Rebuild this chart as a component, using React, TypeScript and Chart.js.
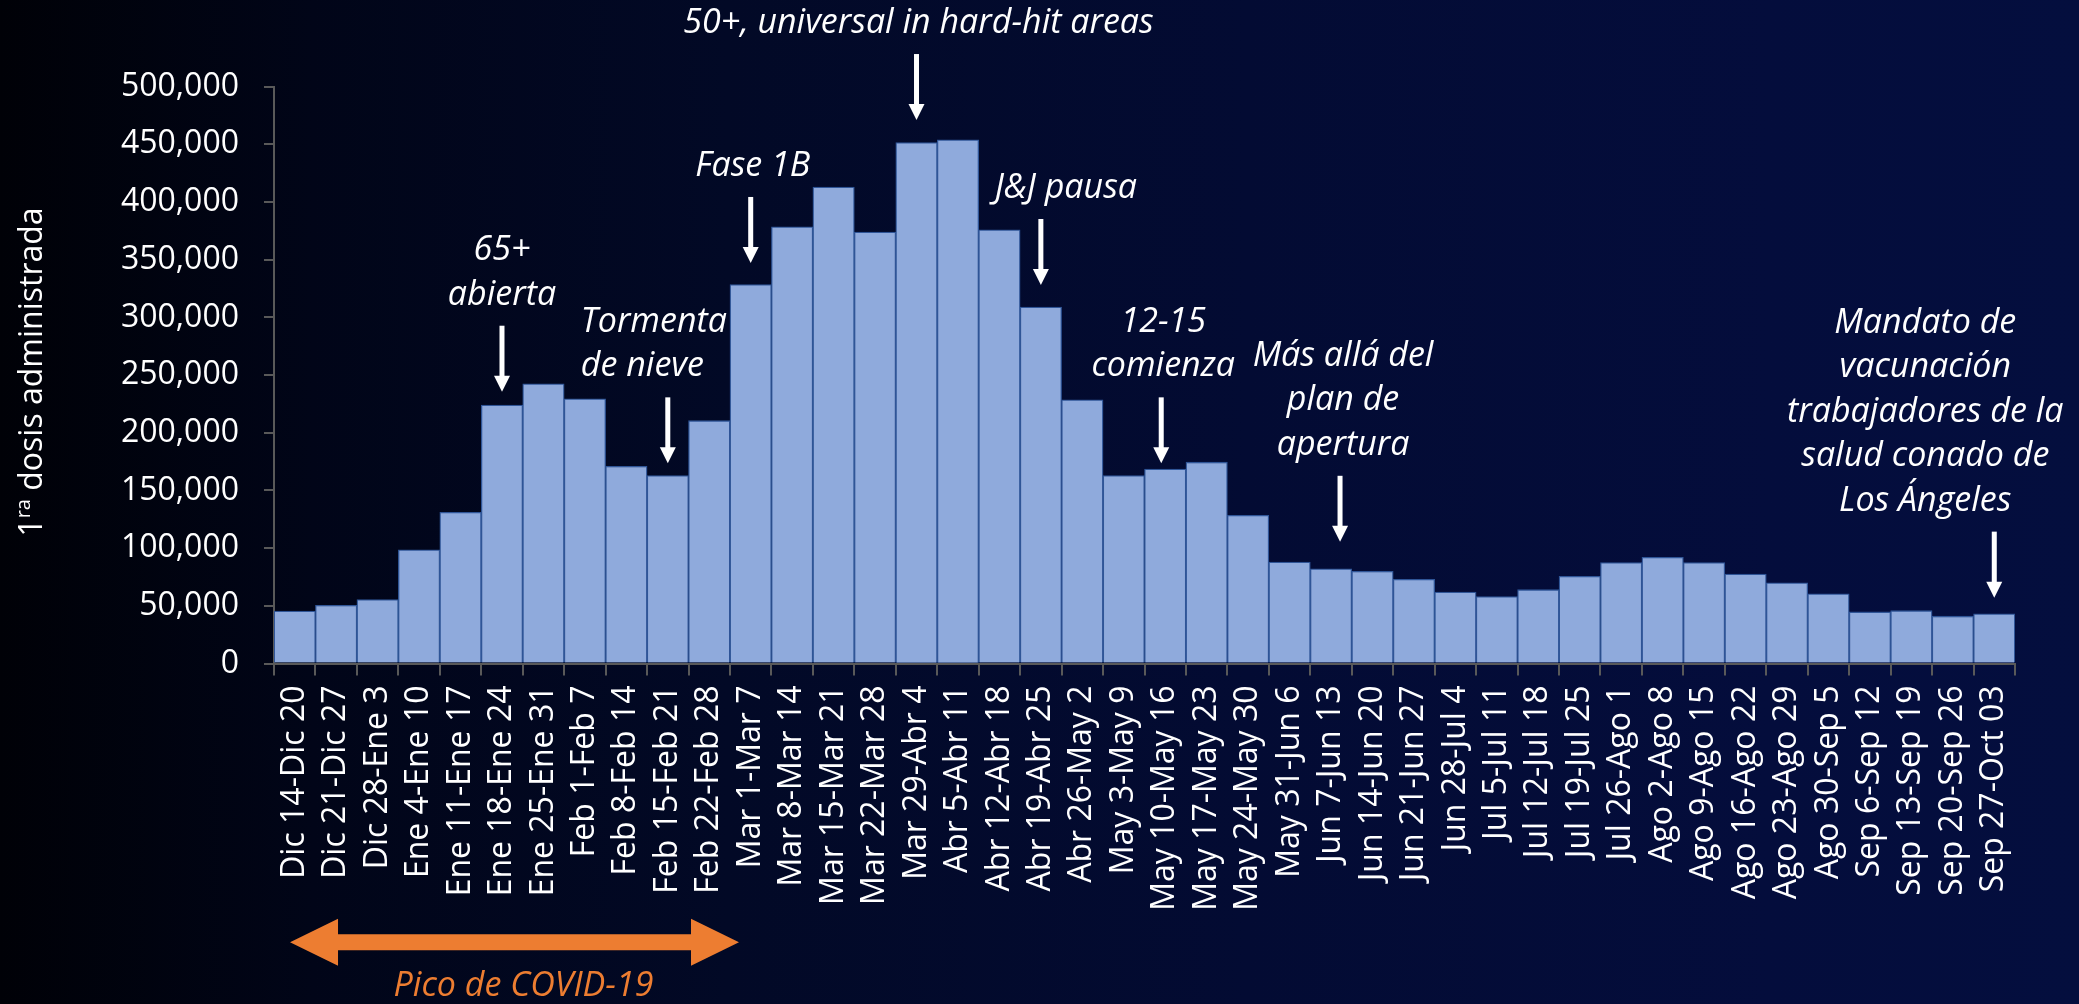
import React, { useEffect, useRef } from "react";
import { Chart, registerables } from "chart.js";

Chart.register(...registerables);

const categories: string[] = [
  "Dic 14-Dic 20", "Dic 21-Dic 27", "Dic 28-Ene 3", "Ene 4-Ene 10", "Ene 11-Ene 17",
  "Ene 18-Ene 24", "Ene 25-Ene 31", "Feb 1-Feb 7", "Feb 8-Feb 14", "Feb 15-Feb 21",
  "Feb 22-Feb 28", "Mar 1-Mar 7", "Mar 8-Mar 14", "Mar 15-Mar 21", "Mar 22-Mar 28",
  "Mar 29-Abr 4", "Abr 5-Abr 11", "Abr 12-Abr 18", "Abr 19-Abr 25", "Abr 26-May 2",
  "May 3-May 9", "May 10-May 16", "May 17-May 23", "May 24-May 30", "May 31-Jun 6",
  "Jun 7-Jun 13", "Jun 14-Jun 20", "Jun 21-Jun 27", "Jun 28-Jul 4", "Jul 5-Jul 11",
  "Jul 12-Jul 18", "Jul 19-Jul 25", "Jul 26-Ago 1", "Ago 2-Ago 8", "Ago 9-Ago 15",
  "Ago 16-Ago 22", "Ago 23-Ago 29", "Ago 30-Sep 5", "Sep 6-Sep 12", "Sep 13-Sep 19",
  "Sep 20-Sep 26", "Sep 27-Oct 03",
];

const firstDoses: number[] = [
  45500, 50500, 55500, 98500, 131000,
  224000, 242500, 229500, 171000, 163000,
  210500, 328500, 378500, 413000, 374000,
  451500, 454000, 376000, 309000, 228500,
  163000, 168500, 174500, 128500, 88000,
  82000, 80000, 73000, 62000, 58000,
  64000, 75500, 87500, 92000, 87500,
  77500, 70000, 60500, 44700, 45800,
  41000, 43000,
];

const yMin = 0;
const yMax = 500000;
const yStep = 50000;

const yTitleMain = "1";
const yTitleSup = "ra";
const yTitleRest = " dosis administrada";

// Annotations: category index, value where the arrow tip points, text lines
const annotationIndex: number[] = [5, 9, 11, 15, 18, 21, 25, 41];
const annotationTipValue: number[] = [235600, 173500, 347200, 471100, 328100, 173500, 105500, 57100];
const annotationLines: string[][] = [
  ["65+", "abierta"],
  ["Tormenta", "de nieve"],
  ["Fase 1B"],
  ["50+, universal in hard-hit areas"],
  ["J&J pausa"],
  ["12-15", "comienza"],
  ["Más allá del", "plan de", "apertura"],
  ["Mandato de", "vacunación", "trabajadores de la", "salud conado de", "Los Ángeles"],
];

const peakStartIndex = 0;
const peakEndIndex = 11;
const peakLabel = "Pico de COVID-19";

// ---- styles (not data) ----
const FONT = "'Open Sans', 'DejaVu Sans', sans-serif";
const annotationStyle = [
  { dx: 0, align: "center", textDx: 0 },
  { dx: 0, align: "left", textDx: -87 },
  { dx: 0, align: "center", textDx: 2 },
  { dx: 0, align: "center", textDx: 2 },
  { dx: 0, align: "center", textDx: 25 },
  { dx: -4, align: "center", textDx: 2 },
  { dx: 9, align: "center", textDx: 3 },
  { dx: 0, align: "center", textDx: -69 },
];

function drawDownArrow(ctx: CanvasRenderingContext2D, x: number, top: number, tip: number) {
  const shaftW = 5;
  const headW = 16;
  const headL = 16;
  ctx.fillStyle = "#ffffff";
  ctx.fillRect(x - shaftW / 2, top, shaftW, tip - headL - top + 1);
  ctx.beginPath();
  ctx.moveTo(x - headW / 2, tip - headL);
  ctx.lineTo(x + headW / 2, tip - headL);
  ctx.lineTo(x, tip);
  ctx.closePath();
  ctx.fill();
}

const annotationPlugin = {
  id: "annotationsPlugin",
  afterDraw(chart: any) {
    const ctx: CanvasRenderingContext2D = chart.ctx;
    const xs = chart.scales.x;
    const ys = chart.scales.y;
    ctx.save();

    // Y-axis title with superscript
    ctx.save();
    ctx.translate(42, 372);
    ctx.rotate(-Math.PI / 2);
    ctx.fillStyle = "#ffffff";
    ctx.textBaseline = "alphabetic";
    ctx.textAlign = "left";
    const bigFont = `32px ${FONT}`;
    const smallFont = `20px ${FONT}`;
    ctx.font = bigFont;
    const w1 = ctx.measureText(yTitleMain).width;
    const w3 = ctx.measureText(yTitleRest).width;
    ctx.font = smallFont;
    const w2 = ctx.measureText(yTitleSup).width;
    const total = w1 + w2 + w3;
    let cx = -total / 2;
    ctx.font = bigFont;
    ctx.fillText(yTitleMain, cx, 0);
    cx += w1;
    ctx.font = smallFont;
    ctx.fillText(yTitleSup, cx, -12);
    cx += w2;
    ctx.font = bigFont;
    ctx.fillText(yTitleRest, cx, 0);
    ctx.restore();

    // Event annotations
    const arrowLen = 66;
    const lineH = 44.5;
    ctx.font = `italic 34px ${FONT}`;
    ctx.fillStyle = "#ffffff";
    ctx.textBaseline = "alphabetic";
    annotationIndex.forEach((idx, i) => {
      const st = annotationStyle[i];
      const x = xs.getPixelForValue(idx) + st.dx;
      const tip = ys.getPixelForValue(annotationTipValue[i]);
      const top = tip - arrowLen;
      drawDownArrow(ctx, x, top, tip);
      const lines = annotationLines[i];
      const n = lines.length;
      ctx.textAlign = st.align as CanvasTextAlign;
      lines.forEach((ln, j) => {
        const baseline = top - 21 - (n - 1 - j) * lineH;
        ctx.fillText(ln, x + st.textDx, baseline);
      });
    });

    // Orange double arrow
    const left = xs.getPixelForValue(peakStartIndex) - 4.7;
    const right = xs.getPixelForValue(peakEndIndex) - 11.7;
    const cy = 942.3;
    const shaftH = 16;
    const headH = 47;
    const headL = 48;
    ctx.fillStyle = "#ed7d31";
    ctx.beginPath();
    ctx.moveTo(left, cy);
    ctx.lineTo(left + headL, cy - headH / 2);
    ctx.lineTo(left + headL, cy - shaftH / 2);
    ctx.lineTo(right - headL, cy - shaftH / 2);
    ctx.lineTo(right - headL, cy - headH / 2);
    ctx.lineTo(right, cy);
    ctx.lineTo(right - headL, cy + headH / 2);
    ctx.lineTo(right - headL, cy + shaftH / 2);
    ctx.lineTo(left + headL, cy + shaftH / 2);
    ctx.lineTo(left + headL, cy + headH / 2);
    ctx.closePath();
    ctx.fill();
    ctx.font = `italic 34px ${FONT}`;
    ctx.textAlign = "center";
    ctx.fillText(peakLabel, (left + right) / 2 + 9, 996);

    ctx.restore();
  },
};

export default function App() {
  const canvasRef = useRef<HTMLCanvasElement | null>(null);

  useEffect(() => {
    document.body.style.margin = "0";
    const canvas = canvasRef.current;
    if (!canvas) return;
    const chart = new Chart(canvas, {
      type: "bar",
      data: {
        labels: categories,
        datasets: [
          {
            label: "1ra dosis administrada",
            data: firstDoses,
            backgroundColor: "#8faadc",
            borderColor: "#2f5597",
            borderWidth: 1.3,
            barPercentage: 1,
            categoryPercentage: 1,
          },
        ],
      },
      options: {
        responsive: false,
        animation: false,
        devicePixelRatio: 1,
        layout: { padding: { top: 86.7, right: 64, bottom: 0, left: 0 } },
        plugins: {
          legend: { display: false },
          tooltip: { enabled: false },
          title: { display: false },
        },
        scales: {
          x: {
            grid: {
              display: true,
              drawOnChartArea: false,
              drawTicks: true,
              tickLength: 12,
              color: "#595959",
              lineWidth: 2,
              offset: true,
            },
            border: { display: true, color: "#595959", width: 2 },
            ticks: {
              color: "#ffffff",
              font: { family: FONT, size: 32 },
              minRotation: 90,
              maxRotation: 90,
              autoSkip: false,
              padding: 10,
            },
            afterFit: (s: any) => {
              s.height = 340.5;
            },
          },
          y: {
            min: yMin,
            max: yMax,
            ticks: {
              stepSize: yStep,
              color: "#ffffff",
              font: { family: FONT, size: 32 },
              padding: 25,
              callback: (v: any) => Number(v).toLocaleString("en-US"),
            },
            grid: {
              display: true,
              drawOnChartArea: false,
              drawTicks: true,
              tickLength: 10,
              color: "#595959",
              lineWidth: 2,
            },
            border: { display: true, color: "#595959", width: 2 },
            afterFit: (s: any) => {
              s.width = 274;
            },
          },
        },
      },
      plugins: [annotationPlugin],
    });
    return () => chart.destroy();
  }, []);

  return (
    <div
      style={{
        position: "absolute",
        left: 0,
        top: 0,
        width: 2079,
        height: 1004,
        background:
          "linear-gradient(90deg, #000107 0%, #010518 15%, #020926 35%, #030b33 60%, #040d3c 85%, #040e3e 100%)",
        overflow: "hidden",
      }}
    >
      <canvas ref={canvasRef} width={2079} height={1004} style={{ width: 2079, height: 1004, display: "block" }} />
    </div>
  );
}
